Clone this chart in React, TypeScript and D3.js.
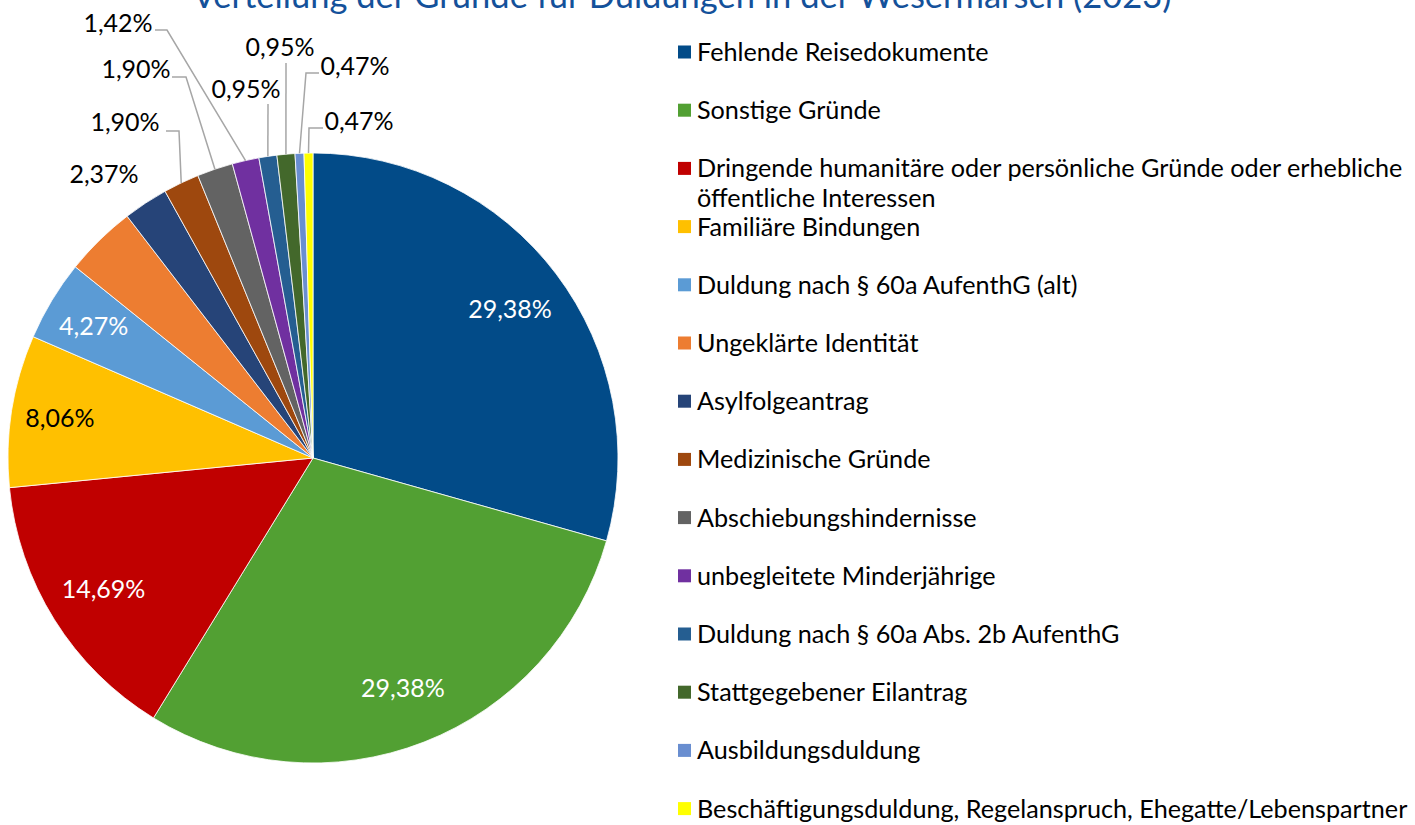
import * as d3 from "d3";

const title = "Verteilung der Gründe für Duldungen in der Wesermarsch (2023)";

const categories = [
  "Fehlende Reisedokumente",
  "Sonstige Gründe",
  "Dringende humanitäre oder persönliche Gründe oder erhebliche öffentliche Interessen",
  "Familiäre Bindungen",
  "Duldung nach § 60a AufenthG (alt)",
  "Ungeklärte Identität",
  "Asylfolgeantrag",
  "Medizinische Gründe",
  "Abschiebungshindernisse",
  "unbegleitete Minderjährige",
  "Duldung nach § 60a Abs. 2b AufenthG",
  "Stattgegebener Eilantrag",
  "Ausbildungsduldung",
  "Beschäftigungsduldung, Regelanspruch, Ehegatte/Lebenspartner",
];

// percent shares (orange slice has no visible label)
const shares = [29.38, 29.38, 14.69, 8.06, 4.27, 3.79, 2.37, 1.9, 1.9, 1.42, 0.95, 0.95, 0.47, 0.47];

const colors = [
  "#024b88", "#52a033", "#c00000", "#ffc000", "#5b9bd5", "#ed7d31", "#264478",
  "#9e480e", "#636363", "#7030a0", "#255e91", "#43682b", "#698ed0", "#ffff00",
];

const W = 1415;
const H = 825;
const cx = 313;
const cy = 458;
const R = 305;
const FONT = "Lato, 'Open Sans', sans-serif";

// outside label placement: text centre, leader line points (label side first)
const outside: Record<number, { x: number; y: number; line: [number, number][] }> = {
  6: { x: 104, y: 174, line: [] },
  7: { x: 125, y: 122, line: [[166, 131], [179, 131]] },
  8: { x: 136, y: 69, line: [[172, 77], [186, 77]] },
  9: { x: 118, y: 23, line: [[155, 30], [167, 30]] },
  10: { x: 246, y: 89, line: [[268, 104]] },
  11: { x: 280, y: 47, line: [[286, 63]] },
  12: { x: 355, y: 66, line: [[319, 73], [306, 73]] },
  13: { x: 359, y: 121, line: [[323, 128], [309, 128]] },
};
const hidden = [5];

const fmt = (v: number) => v.toFixed(2).replace(".", ",") + "%";

function wrap(text: string, max: number) {
  const lines: string[] = [];
  let cur = "";
  text.split(" ").forEach((w) => {
    const next = cur ? cur + " " + w : w;
    if (next.length > max && cur) {
      lines.push(cur);
      cur = w;
    } else cur = next;
  });
  if (cur) lines.push(cur);
  return lines;
}

export default function App() {
  const pie = d3.pie<number>().sort(null).value((d) => d);
  const arcs = pie(shares);
  const arc = d3.arc<d3.PieArcDatum<number>>().innerRadius(0).outerRadius(R);
  const pt = (a: number, r: number): [number, number] => [cx + r * Math.sin(a), cy - r * Math.cos(a)];

  const legendY = d3.scaleLinear().domain([0, categories.length - 1]).range([52, 808.6]);

  return (
    <svg width={W} height={H} style={{ position: "absolute", left: 0, top: 0, display: "block", background: "#fff" }} fontFamily={FONT}>
      <text x={682} y={8} textAnchor="middle" fontSize={34.5} fill="#14519a">{title}</text>

      <g>
        {arcs.map((d, i) => (
          <path key={i} d={arc(d) || ""} transform={`translate(${cx},${cy})`} fill={colors[i]} stroke="#fff" strokeWidth={0.8} />
        ))}
      </g>

      {/* leader lines */}
      <g fill="none" stroke="#a6a6a6" strokeWidth={1.5}>
        {arcs.map((d, i) => {
          const o = outside[i];
          if (!o || o.line.length === 0) return null;
          const end = pt((d.startAngle + d.endAngle) / 2, R);
          return <polyline key={i} points={[...o.line, end].map((p) => p.join(",")).join(" ")} />;
        })}
      </g>

      {/* labels */}
      <g fontSize={25}>
        {arcs.map((d, i) => {
          if (hidden.includes(i)) return null;
          const o = outside[i];
          if (o) {
            return (
              <text key={i} x={o.x} y={o.y} dy="0.36em" textAnchor="middle" fill="#000">{fmt(shares[i])}</text>
            );
          }
          const [x, y] = pt((d.startAngle + d.endAngle) / 2, R * (i >= 3 ? 0.84 : 0.81));
          return (
            <text key={i} x={x} y={y} dy="0.36em" textAnchor="middle" fill={i === 3 ? "#000" : "#fff"}>{fmt(shares[i])}</text>
          );
        })}
      </g>

      {/* legend */}
      <g fontSize={25.2} fill="#000">
        {categories.map((c, i) => {
          const y = legendY(i);
          const lines = wrap(c, 62);
          return (
            <g key={i}>
              <rect x={678} y={y - 6.5} width={13} height={13} fill={colors[i]} />
              {lines.map((l, k) => (
                <text key={k} x={697} y={y + k * 30} dy="0.36em">{l}</text>
              ))}
            </g>
          );
        })}
      </g>
    </svg>
  );
}
